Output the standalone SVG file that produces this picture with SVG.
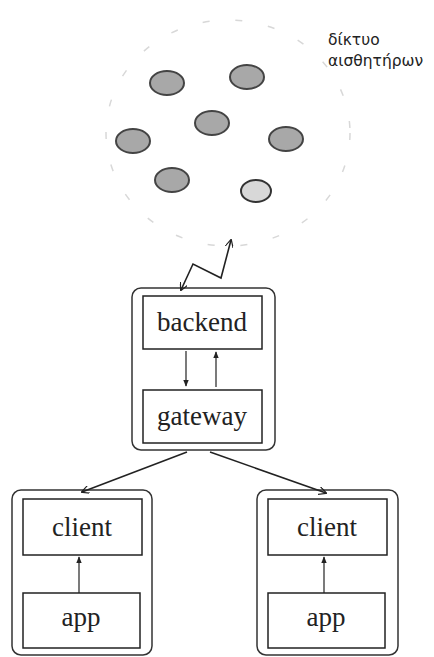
<svg xmlns="http://www.w3.org/2000/svg" width="434" height="657" viewBox="0 0 434 657">
<style>
.outer{fill:none;stroke:#333;stroke-width:1.5}
.box{fill:#fff;stroke:#222;stroke-width:1.5}
.lbl{font-family:"Liberation Serif",serif;font-size:27px;fill:#222;text-anchor:middle}
.sensor{fill:#a8a8a8;stroke:#444;stroke-width:2}
.con{fill:none;stroke:#222;stroke-width:1.6}
.thin{fill:none;stroke:#222;stroke-width:1.2}
.gr{font-family:"DejaVu Sans",sans-serif;font-size:15.5px;fill:#222}
</style>
<defs>
<marker id="ah" viewBox="0 0 10 10" refX="9" refY="5" markerWidth="8" markerHeight="8" orient="auto-start-reverse" markerUnits="userSpaceOnUse">
<path d="M0,0 L10,5 L0,10" fill="none" stroke="#222" stroke-width="1.5"/>
</marker>
<marker id="ahs" viewBox="0 0 10 10" refX="9" refY="5" markerWidth="7" markerHeight="7" orient="auto" markerUnits="userSpaceOnUse">
<path d="M0,1 L10,5 L0,9 Z" fill="#222"/>
</marker>
</defs>
<rect width="434" height="657" fill="#fff"/>
<g id="sensor-network">
<ellipse cx="228" cy="133" rx="122" ry="113" fill="none" stroke="#d8d8d8" stroke-width="1.5" stroke-dasharray="7 26"/>
<ellipse class="sensor" cx="167" cy="83" rx="17" ry="12"/>
<ellipse class="sensor" cx="247" cy="77" rx="17" ry="12"/>
<ellipse class="sensor" cx="212" cy="123" rx="17" ry="12"/>
<ellipse class="sensor" cx="133" cy="141" rx="17" ry="12"/>
<ellipse class="sensor" cx="286" cy="139" rx="17" ry="12"/>
<ellipse class="sensor" cx="172" cy="180" rx="17" ry="12"/>
<ellipse cx="256" cy="191" rx="15" ry="11" fill="#d8d8d8" stroke="#333" stroke-width="2"/>
<text class="gr" x="328" y="45">δίκτυο</text>
<text class="gr" x="328" y="66">αισθητήρων</text>
</g>
<g id="server">
<rect class="outer" x="132" y="288" width="143" height="162" rx="9"/>
<g id="backend"><rect class="box" x="143" y="296" width="119" height="53"/><text class="lbl" x="202" y="331">backend</text></g>
<g id="gateway"><rect class="box" x="143" y="390" width="119" height="53"/><text class="lbl" x="202" y="425">gateway</text></g>
</g>
<g id="client-left">
<rect class="outer" x="12" y="490" width="140" height="165" rx="9"/>
<g id="client1"><rect class="box" x="23" y="499" width="119" height="56"/><text class="lbl" x="82" y="536">client</text></g>
<g id="app1"><rect class="box" x="23" y="593" width="117" height="55"/><text class="lbl" x="81" y="626">app</text></g>
</g>
<g id="client-right">
<rect class="outer" x="257" y="490" width="141" height="165" rx="9"/>
<g id="client2"><rect class="box" x="268" y="499" width="119" height="56"/><text class="lbl" x="327" y="536">client</text></g>
<g id="app2"><rect class="box" x="268" y="593" width="117" height="55"/><text class="lbl" x="326" y="626">app</text></g>
</g>
<g id="connectors">
<polyline class="con" points="181,290 193,264 221,278 231,240" marker-start="url(#ah)" marker-end="url(#ah)"/>
<line class="thin" x1="186" y1="351" x2="186" y2="386" marker-end="url(#ahs)"/>
<line class="thin" x1="216" y1="387" x2="216" y2="352" marker-end="url(#ahs)"/>
<line class="con" x1="187" y1="452" x2="82" y2="492" marker-end="url(#ah)"/>
<line class="con" x1="210" y1="452" x2="326" y2="493" marker-end="url(#ah)"/>
<line class="thin" x1="79" y1="593" x2="79" y2="557" marker-end="url(#ahs)"/>
<line class="thin" x1="324" y1="593" x2="324" y2="557" marker-end="url(#ahs)"/>
</g>
</svg>
